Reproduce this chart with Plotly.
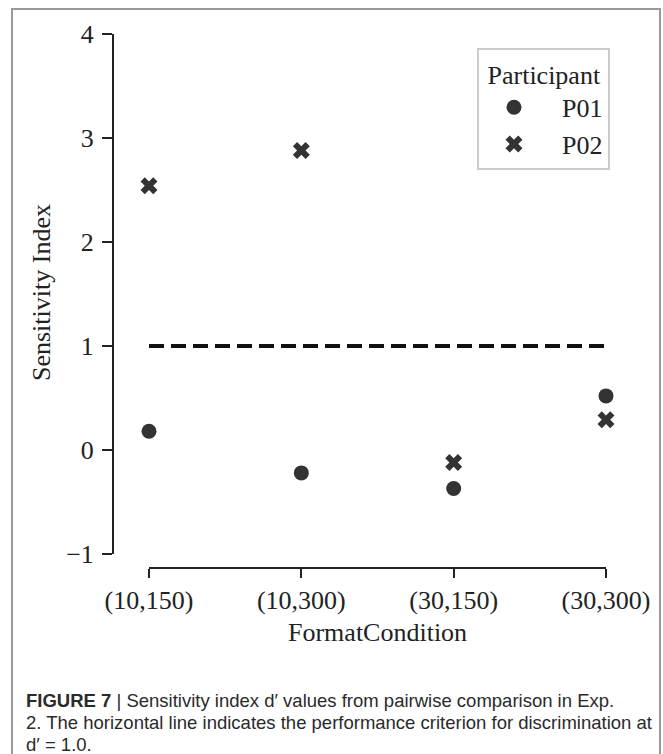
import plotly.graph_objects as go

# ---- data ----
categories = ["(10,150)", "(10,300)", "(30,150)", "(30,300)"]
p01_values = [0.18, -0.22, -0.37, 0.52]
p02_values = [2.54, 2.88, -0.12, 0.29]
criterion = 1.0
y_ticks = [-1, 0, 1, 2, 3, 4]
caption_lines = [
    "<b>FIGURE 7</b> | Sensitivity index d′ values from pairwise comparison in Exp.",
    "2. The horizontal line indicates the performance criterion for discrimination at",
    "d′ = 1.0.",
]

W, H = 663, 754
L, R, T, B = 113, 43, 30, 186
PW, PH = W - L - R, H - T - B


def px(x):
    return (x - L) / PW


def py(y):
    return (H - B - y) / PH


SERIF = "Liberation Serif, Times New Roman, serif"
SANS = "Liberation Sans, Arial, sans-serif"
INK = "#222222"
MARK = "#333333"
PAD = "\u00a0\u00a0"

fig = go.Figure()
fig.add_trace(go.Scatter(
    x=categories, y=p01_values, mode="markers", name=PAD + "P01",
    marker=dict(symbol="circle", size=15, color=MARK, line=dict(width=0)),
))
fig.add_trace(go.Scatter(
    x=categories, y=p02_values, mode="markers", name=PAD + "P02",
    marker=dict(symbol="x", size=15, color=MARK, line=dict(width=0)),
))
# criterion line
fig.add_trace(go.Scatter(
    x=[categories[0], categories[-1]], y=[criterion, criterion], mode="lines",
    line=dict(color="#111111", width=4, dash="15px,7px"), showlegend=False,
    hoverinfo="skip",
))

shapes = [
    # y spine (trimmed)
    dict(type="line", xref="paper", yref="y", x0=0, x1=0, y0=y_ticks[0], y1=y_ticks[-1],
         line=dict(color=INK, width=2)),
    # x spine (trimmed)
    dict(type="line", xref="x", yref="paper", x0=0, x1=len(categories) - 1, y0=0, y1=0,
         line=dict(color=INK, width=2)),
    # outer figure frame
    dict(type="rect", xref="paper", yref="paper", x0=px(12), x1=px(660), y0=py(9), y1=py(770),
         line=dict(color="#9a9a9a", width=2), fillcolor="rgba(0,0,0,0)", layer="below"),
]

annotations = [
    dict(text="Sensitivity Index", xref="paper", yref="paper", x=px(41), y=py(293),
         showarrow=False, textangle=-90, font=dict(family=SERIF, size=26, color=INK),
         xanchor="center", yanchor="middle"),
    dict(text="FormatCondition", xref="paper", yref="paper", x=px((149 + 606) / 2), y=py(632),
         showarrow=False, font=dict(family=SERIF, size=26, color=INK),
         xanchor="center", yanchor="middle"),
]
for i, line in enumerate(caption_lines):
    annotations.append(dict(
        text=line, xref="paper", yref="paper", x=px(24), y=py(700 + 22 * i),
        showarrow=False, align="left", xanchor="left", yanchor="middle",
        font=dict(family=SANS, size=18.5, color="#2a2a2a"),
    ))

fig.update_layout(
    width=W, height=H,
    margin=dict(l=L, r=R, t=T, b=B, pad=0),
    paper_bgcolor="white", plot_bgcolor="white",
    showlegend=True,
    legend=dict(
        x=px(477), y=py(48), xanchor="left", yanchor="top",
        bgcolor="white", bordercolor="#cccccc", borderwidth=2,
        font=dict(family=SERIF, size=26, color=INK),
        title=dict(text="\u00a0Participant", font=dict(family=SERIF, size=26, color=INK)),
        itemwidth=60,
    ),
    xaxis=dict(
        type="category", categoryorder="array", categoryarray=categories,
        range=[-(149 - L) / 152.33, 3 + (W - R - 606) / 152.33],
        showgrid=False, zeroline=False, showline=False,
        ticks="outside", ticklen=9, tickwidth=2, tickcolor=INK,
        tickfont=dict(family=SERIF, size=26, color=INK), ticklabelstandoff=0,
    ),
    yaxis=dict(
        range=[-1 - (568 - 554) / 104, 4 + (34 - T) / 104],
        tickvals=y_ticks, ticktext=[("−" + str(-v)) if v < 0 else str(v) for v in y_ticks],
        showgrid=False, zeroline=False, showline=False,
        ticks="outside", ticklen=10, tickwidth=2, tickcolor=INK,
        tickfont=dict(family=SERIF, size=26, color=INK), ticklabelstandoff=3,
    ),
    shapes=shapes,
    annotations=annotations,
)

fig.write_html("out.html")
